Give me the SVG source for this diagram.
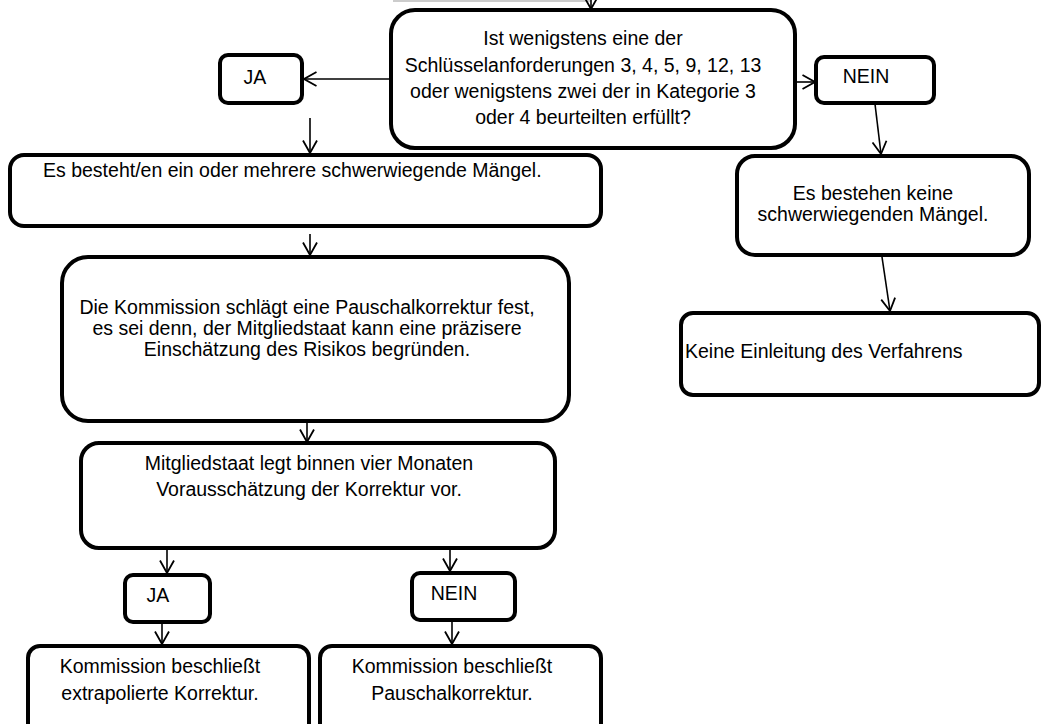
<svg xmlns="http://www.w3.org/2000/svg" width="1041" height="724" viewBox="0 0 1041 724">
<defs>
<style>
.box{fill:#fff;stroke:#000;stroke-width:4}
.t{font-family:"Liberation Sans",Arial,sans-serif;font-size:19.5px;fill:#000}
.c{text-anchor:middle}
.con{stroke:#000;stroke-width:1.6;fill:none}
</style>
<marker id="ah" viewBox="0 0 14 16" refX="13" refY="8" markerWidth="14" markerHeight="16" markerUnits="userSpaceOnUse" orient="auto">
<path d="M0.5,1 L13,8 L0.5,15" fill="none" stroke="#000" stroke-width="1.8"/>
</marker>
</defs>
<rect width="1041" height="724" fill="#fff"/>

<g id="connectors">
<line x1="393" y1="1" x2="591" y2="1" stroke="#999" stroke-width="1"/>
<line class="con" x1="591" y1="0" x2="591" y2="9" marker-end="url(#ah)"/>
<line class="con" x1="391" y1="79" x2="304" y2="79" marker-end="url(#ah)"/>
<line class="con" x1="795" y1="82" x2="815" y2="82" marker-end="url(#ah)"/>
<line class="con" x1="310" y1="118" x2="310" y2="153" marker-end="url(#ah)"/>
<line class="con" x1="875" y1="104" x2="881" y2="154" marker-end="url(#ah)"/>
<line class="con" x1="310" y1="234" x2="310" y2="255" marker-end="url(#ah)"/>
<line class="con" x1="882" y1="257" x2="890" y2="311" marker-end="url(#ah)"/>
<line class="con" x1="307" y1="422" x2="307" y2="442" marker-end="url(#ah)"/>
<line class="con" x1="167" y1="550" x2="167" y2="573" marker-end="url(#ah)"/>
<line class="con" x1="450" y1="550" x2="450" y2="571" marker-end="url(#ah)"/>
<line class="con" x1="162" y1="623" x2="162" y2="644" marker-end="url(#ah)"/>
<line class="con" x1="452" y1="621" x2="452" y2="644" marker-end="url(#ah)"/>
</g>

<g id="decision">
<rect class="box" x="391" y="10" width="404" height="138" rx="24"/>
<text class="t c" x="583" y="45">Ist wenigstens eine der</text>
<text class="t c" x="583" y="72">Schlüsselanforderungen 3, 4, 5, 9, 12, 13</text>
<text class="t c" x="583" y="98">oder wenigstens zwei der in Kategorie 3</text>
<text class="t c" x="583" y="124">oder 4 beurteilten erfüllt?</text>
</g>

<g id="ja-top">
<rect class="box" x="220" y="55" width="82" height="48" rx="8"/>
<text class="t c" x="255" y="84">JA</text>
</g>

<g id="nein-top">
<rect class="box" x="816" y="57" width="118" height="46" rx="8"/>
<text class="t c" x="866" y="83">NEIN</text>
</g>

<g id="maengel">
<rect class="box" x="10" y="155" width="591" height="71" rx="14"/>
<text class="t" x="43" y="177">Es besteht/en ein oder mehrere schwerwiegende Mängel.</text>
</g>

<g id="keine-maengel">
<rect class="box" x="737" y="156" width="292" height="99" rx="18"/>
<text class="t c" x="873" y="200">Es bestehen keine</text>
<text class="t c" x="873" y="221">schwerwiegenden Mängel.</text>
</g>

<g id="pauschal">
<rect class="box" x="62" y="257" width="507" height="164" rx="26"/>
<text class="t c" x="307" y="314">Die Kommission schlägt eine Pauschalkorrektur fest,</text>
<text class="t c" x="307" y="335">es sei denn, der Mitgliedstaat kann eine präzisere</text>
<text class="t c" x="307" y="356">Einschätzung des Risikos begründen.</text>
</g>

<g id="keine-einleitung">
<rect class="box" x="681" y="313" width="358" height="82" rx="12"/>
<text class="t" x="685" y="358">Keine Einleitung des Verfahrens</text>
</g>

<g id="mitgliedstaat">
<rect class="box" x="81" y="443" width="474" height="105" rx="18"/>
<text class="t c" x="309" y="470">Mitgliedstaat legt binnen vier Monaten</text>
<text class="t c" x="309" y="496">Vorausschätzung der Korrektur vor.</text>
</g>

<g id="ja-bottom">
<rect class="box" x="125" y="575" width="85" height="47" rx="8"/>
<text class="t c" x="158" y="602">JA</text>
</g>

<g id="nein-bottom">
<rect class="box" x="412" y="573" width="103" height="47" rx="8"/>
<text class="t c" x="454" y="600">NEIN</text>
</g>

<g id="extrapoliert">
<rect class="box" x="28" y="646" width="281" height="100" rx="12"/>
<text class="t c" x="160" y="673">Kommission beschließt</text>
<text class="t c" x="160" y="700">extrapolierte Korrektur.</text>
</g>

<g id="pauschal-final">
<rect class="box" x="320" y="646" width="281" height="100" rx="12"/>
<text class="t c" x="452" y="673">Kommission beschließt</text>
<text class="t c" x="452" y="700">Pauschalkorrektur.</text>
</g>
</svg>
